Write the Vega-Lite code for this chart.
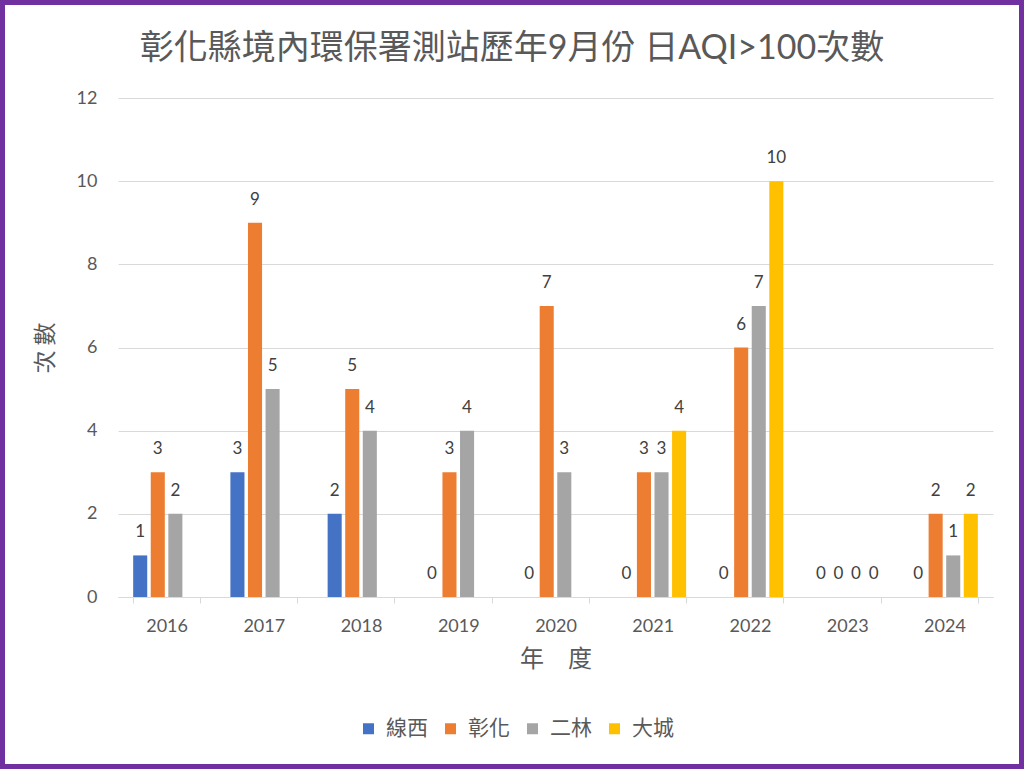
{
  "$schema": "https://vega.github.io/schema/vega-lite/v6.json",
  "width": 1024,
  "height": 769,
  "autosize": {"type": "none"},
  "padding": 0,
  "background": "white",
  "title": {
    "text": "彰化縣境內環保署測站歷年9月份 日AQI>100次數",
    "font": "Lato, Noto Sans CJK TC",
    "fontSize": 34,
    "fontWeight": "normal",
    "color": "#595959",
    "frame": "group",
    "anchor": "middle",
    "offset": -66
  },
  "data": {
    "values": [
      {"year": "2016", "site": "線西", "n": 1},
      {"year": "2016", "site": "彰化", "n": 3},
      {"year": "2016", "site": "二林", "n": 2},
      {"year": "2017", "site": "線西", "n": 3},
      {"year": "2017", "site": "彰化", "n": 9},
      {"year": "2017", "site": "二林", "n": 5},
      {"year": "2018", "site": "線西", "n": 2},
      {"year": "2018", "site": "彰化", "n": 5},
      {"year": "2018", "site": "二林", "n": 4},
      {"year": "2019", "site": "線西", "n": 0},
      {"year": "2019", "site": "彰化", "n": 3},
      {"year": "2019", "site": "二林", "n": 4},
      {"year": "2020", "site": "線西", "n": 0},
      {"year": "2020", "site": "彰化", "n": 7},
      {"year": "2020", "site": "二林", "n": 3},
      {"year": "2021", "site": "線西", "n": 0},
      {"year": "2021", "site": "彰化", "n": 3},
      {"year": "2021", "site": "二林", "n": 3},
      {"year": "2021", "site": "大城", "n": 4},
      {"year": "2022", "site": "線西", "n": 0},
      {"year": "2022", "site": "彰化", "n": 6},
      {"year": "2022", "site": "二林", "n": 7},
      {"year": "2022", "site": "大城", "n": 10},
      {"year": "2023", "site": "線西", "n": 0},
      {"year": "2023", "site": "彰化", "n": 0},
      {"year": "2023", "site": "二林", "n": 0},
      {"year": "2023", "site": "大城", "n": 0},
      {"year": "2024", "site": "線西", "n": 0},
      {"year": "2024", "site": "彰化", "n": 2},
      {"year": "2024", "site": "二林", "n": 1},
      {"year": "2024", "site": "大城", "n": 2}
    ]
  },
  "encoding": {
    "x": {
      "field": "year",
      "type": "nominal",
      "sort": null,
      "title": "年　度",
      "scale": {"range": [118, 993], "paddingInner": 0.313, "paddingOuter": 0.156},
      "axis": {
        "orient": "bottom",
        "offset": -172,
        "grid": false,
        "domainColor": "#D9D9D9",
        "domainWidth": 1,
        "tickColor": "#D9D9D9",
        "tickSize": 6,
        "tickBand": "extent",
        "labelAngle": 0,
        "labelFont": "Lato",
        "labelFontSize": 18,
        "labelColor": "#595959",
        "labelPadding": 14,
        "titleFont": "Noto Sans CJK TC",
        "titleFontSize": 24,
        "titleFontWeight": "normal",
        "titleColor": "#595959",
        "titlePadding": 12
      }
    },
    "xOffset": {
      "field": "site",
      "type": "nominal",
      "scale": {"domain": ["線西", "彰化", "二林", "大城"], "paddingInner": 0.2, "paddingOuter": 0}
    },
    "y": {
      "field": "n",
      "type": "quantitative",
      "title": "次  數",
      "scale": {"domain": [0, 12], "range": [597, 98], "nice": false},
      "axis": {
        "offset": -118,
        "values": [0, 2, 4, 6, 8, 10, 12],
        "domain": false,
        "ticks": false,
        "tickSize": 0,
        "grid": true,
        "gridColor": "#D9D9D9",
        "gridWidth": 1,
        "labelFont": "Lato",
        "labelFontSize": 18,
        "labelColor": "#595959",
        "labelPadding": 21,
        "titleFont": "Noto Sans CJK TC",
        "titleFontSize": 23,
        "titleFontWeight": "normal",
        "titleColor": "#595959",
        "titlePadding": 19
      }
    }
  },
  "layer": [
    {
      "mark": {"type": "bar"},
      "encoding": {
        "color": {
          "field": "site",
          "type": "nominal",
          "scale": {"domain": ["線西", "彰化", "二林", "大城"], "range": ["#4472C4", "#ED7D31", "#A5A5A5", "#FFC000"]},
          "legend": {
            "orient": "none",
            "legendX": 358,
            "legendY": 718,
            "direction": "horizontal",
            "title": null,
            "padding": 0,
            "symbolType": "square",
            "symbolSize": 121,
            "symbolStrokeWidth": 0,
            "labelFont": "Noto Sans CJK TC",
            "labelFontSize": 21,
            "labelColor": "#595959",
            "labelOffset": 7,
            "columnPadding": 12
          }
        }
      }
    },
    {
      "mark": {"type": "text", "baseline": "alphabetic", "dy": -18, "font": "Lato", "fontSize": 17, "color": "#404040"},
      "encoding": {"text": {"field": "n", "type": "quantitative"}}
    }
  ],
  "config": {
    "view": {"stroke": "#7030A0", "strokeWidth": 10, "fill": "white"}
  }
}
